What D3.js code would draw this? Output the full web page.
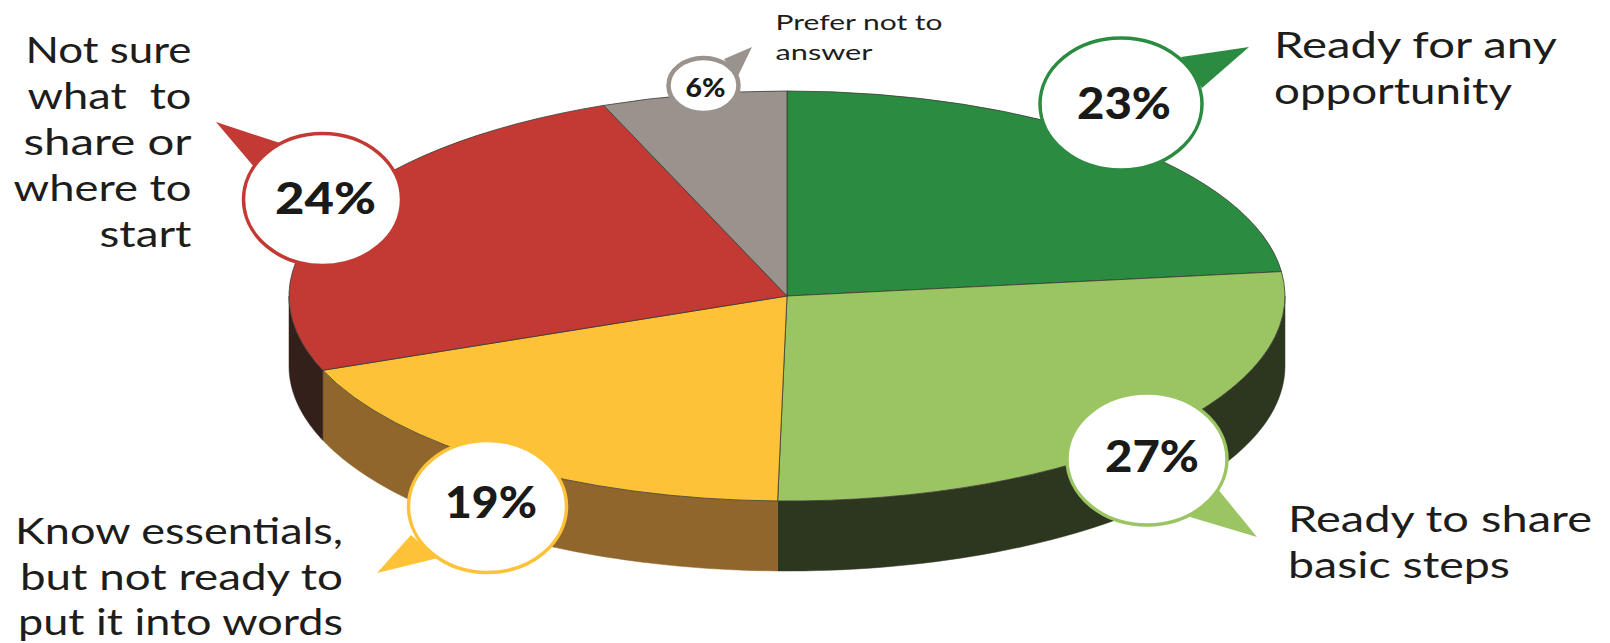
<!DOCTYPE html>
<html>
<head>
<meta charset="utf-8">
<title>Pie</title>
<script src="https://cdn.jsdelivr.net/npm/d3@7"></script>
<style>
  html, body { margin: 0; padding: 0; background: #fff; }
  svg { display: block; }
  text { font-family: Lato, "Open Sans", sans-serif; fill: #1d1d1b; }
  .lab { white-space: pre; }
  .pct { font-weight: 900; fill: #1a1a18; }
</style>
</head>
<body>
<div id="chart"></div>
<script>
// slice order is clockwise from 12 o'clock
var categories = ["Ready for any opportunity", "Ready to share basic steps", "Know essentials, but not ready to put it into words", "Not sure what to share or where to start", "Prefer not to answer"];
var printedLabels = ["23%", "27%", "19%", "24%", "6%"];
// wedge sizes as drawn in the picture (printed labels only add up to 99)
var drawnShares = [23.1, 27.2, 18.8, 24.9, 6];
var topColors = ["#2b8c41", "#9bc562", "#fdc237", "#c23a33", "#9a928c"];
var sideColors = ["#2d3720", "#2d3720", "#91662c", "#33201a", "#33201a"];
var labelLines = [
  ["Ready for any", "opportunity"],
  ["Ready to share", "basic steps"],
  ["Know essentials,", "but not ready to", "put it into words"],
  ["Not sure", "what  to", "share or", "where to", "start"],
  ["Prefer not to", "answer"]
];

var width = 1610, height = 643;
var cx = 787, cy = 296, rx = 498, ry = 205, depth = 70;

// callout layout, one per slice: bubble, tail and text block
var callouts = [
  {bx: 1121, by: 104, brx: 81, bry: 66, sw: 3.5, tip: [1249, 47], base: [[1181, 57], [1202, 88]], tx: 1124, ty: 104, fs: 43, pw: 94,
   anchor: "start", lx: 1274, ly: 58, step: 46, lfs: 37, widths: [283, 238]},
  {bx: 1147, by: 459, brx: 80, bry: 66, sw: 3.5, tip: [1257, 537], base: [[1217, 488], [1190, 517]], tx: 1152, ty: 457, fs: 43, pw: 94,
   anchor: "start", lx: 1288, ly: 532, step: 45.5, lfs: 37, widths: [304, 222]},
  {bx: 487.5, by: 506.5, brx: 79, bry: 66, sw: 3.5, tip: [377, 573], base: [[411, 535], [438, 558]], tx: 491, ty: 503, fs: 43, pw: 92,
   anchor: "end", lx: 343, ly: 544, step: 45.5, lfs: 37, widths: [328, 323, 325]},
  {bx: 322.5, by: 199.5, brx: 79, bry: 66, sw: 3.5, tip: [216, 122], base: [[280, 143], [255, 168]], tx: 325.5, ty: 199, fs: 43, pw: 101,
   anchor: "end", lx: 191.5, ly: 63, step: 46, lfs: 37, widths: [166, 164, 168, 178, 92]},
  {bx: 703.5, by: 85.5, brx: 35, bry: 27.5, sw: 4.5, tip: [752, 47], base: [[724, 59], [737, 78]], tx: 705.5, ty: 87.5, fs: 26, pw: 40,
   anchor: "start", lx: 775.5, ly: 30, step: 30, lfs: 21.5, widths: [167, 97]}
];

var svg = d3.select("#chart").append("svg")
  .attr("width", width)
  .attr("height", height);

var pie = d3.pie().sort(null).value(function(d) { return d; });
var slices = pie(drawnShares);

// rim of the disc: only the front half (90 to 270 degrees) can be seen
var halfPi = Math.PI / 2;
var rim = d3.area()
  .x(function(a) { return cx + rx * Math.sin(a); })
  .y0(function(a) { return cy - ry * Math.cos(a); })
  .y1(function(a) { return cy - ry * Math.cos(a) + depth; });

svg.append("g").attr("class", "rim")
  .selectAll("path")
  .data(slices.filter(function(s) { return s.endAngle > halfPi && s.startAngle < 3 * halfPi; }))
  .enter().append("path")
  .attr("d", function(s) {
    var a0 = Math.max(s.startAngle, halfPi), a1 = Math.min(s.endAngle, 3 * halfPi);
    var n = 60;
    return rim(d3.range(n + 1).map(function(i) { return a0 + (a1 - a0) * i / n; }));
  })
  .attr("fill", function(s) { return sideColors[s.index]; })
  .attr("stroke", function(s) { return sideColors[s.index]; })
  .attr("stroke-width", 0.5);

// top of the disc is a normal pie squashed into an ellipse
var arc = d3.arc().innerRadius(0).outerRadius(rx);
svg.append("g").attr("class", "top")
  .attr("transform", "translate(" + cx + "," + cy + ") scale(1," + (ry / rx) + ")")
  .selectAll("path")
  .data(slices)
  .enter().append("path")
  .attr("d", arc)
  .attr("fill", function(s) { return topColors[s.index]; })
  .attr("stroke", "#3a3a34")
  .attr("stroke-width", 0.8)
  .attr("vector-effect", "non-scaling-stroke");

// speech bubbles
var bubble = svg.append("g").attr("class", "callouts")
  .selectAll("g")
  .data(callouts)
  .enter().append("g");

bubble.append("path")
  .attr("d", function(c) { return d3.line()([c.tip, c.base[0], c.base[1]]) + "Z"; })
  .attr("fill", function(c, i) { return topColors[i]; });

bubble.append("ellipse")
  .attr("cx", function(c) { return c.bx; })
  .attr("cy", function(c) { return c.by; })
  .attr("rx", function(c) { return c.brx; })
  .attr("ry", function(c) { return c.bry; })
  .attr("fill", "#fff")
  .attr("stroke", function(c, i) { return topColors[i]; })
  .attr("stroke-width", function(c) { return c.sw; });

bubble.append("text")
  .attr("class", "pct")
  .attr("x", function(c) { return c.tx; })
  .attr("y", function(c) { return c.ty; })
  .attr("dy", "0.36em")
  .attr("text-anchor", "middle")
  .attr("font-size", function(c) { return c.fs; })
  .attr("textLength", function(c) { return c.pw; })
  .attr("lengthAdjust", "spacingAndGlyphs")
  .text(function(c, i) { return printedLabels[i]; });

// category labels
bubble.each(function(c, i) {
  d3.select(this).selectAll("text.lab")
    .data(labelLines[i])
    .enter().append("text")
    .attr("class", "lab")
    .attr("x", c.lx)
    .attr("y", function(d, j) { return c.ly + j * c.step; })
    .attr("text-anchor", c.anchor)
    .attr("font-size", c.lfs)
    .attr("textLength", function(d, j) { return c.widths[j]; })
    .attr("lengthAdjust", "spacingAndGlyphs")
    .text(function(d) { return d; });
});
</script>
</body>
</html>
